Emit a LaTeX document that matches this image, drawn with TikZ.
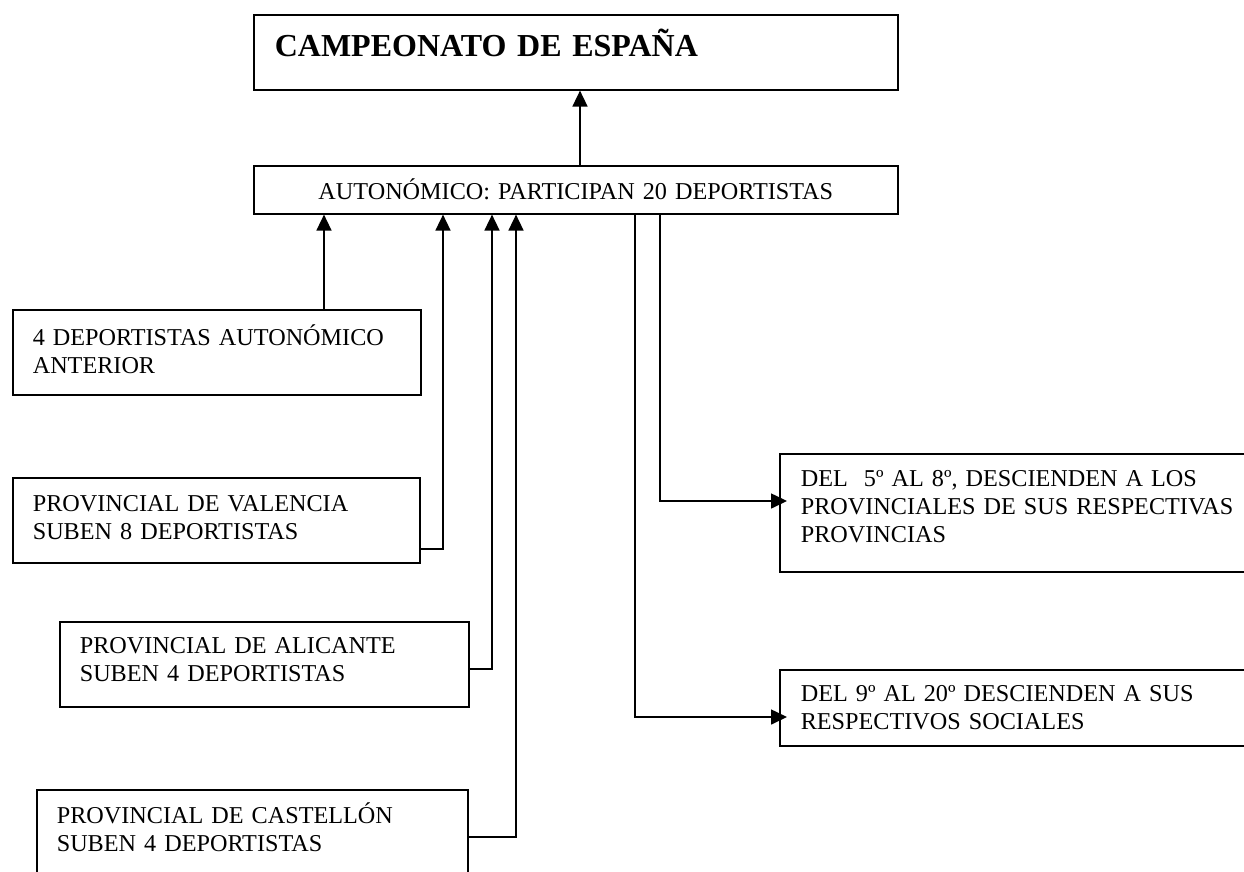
\documentclass[tikz,border=0pt]{standalone}
\usepackage{fontspec}
\setmainfont{Liberation Serif}
\usetikzlibrary{arrows.meta,positioning}
\tikzstyle{l2}=[line width=1.6pt]
\tikzstyle{box}=[draw, l2, anchor=north west, align=left, inner xsep=20pt, inner ysep=0pt, font=\fontsize{24.2}{27.7}\selectfont]
\tikzstyle{arr}=[l2, -{Triangle[length=16pt,width=15pt]}]

\begin{document}
\begin{tikzpicture}[x=1pt,y=-1pt]
    \clip (0,0) rectangle (1244,871);
    % niveles
    \node[box, font=\fontsize{32}{36}\selectfont\bfseries, inner xsep=21pt, text width=602pt, text height=42pt, text depth=33pt] at (253,14) (camp) {CAMPEONATO DE ESPAÑA};
    \node[box, align=center, text width=604pt, text height=34pt, text depth=14pt] at (253,165) (auto) {AUTONÓMICO: PARTICIPAN 20 DEPORTISTAS};

    % de donde vienen
    \node[box, text width=368pt, text height=36pt, text depth=49pt] at (12,309) (ant) {4 DEPORTISTAS AUTONÓMICO\\ANTERIOR};
    \node[box, text width=367pt, text height=34pt, text depth=51pt] at (12,477) (val) {PROVINCIAL DE VALENCIA\\SUBEN 8 DEPORTISTAS};
    \node[box, text width=369pt, text height=32pt, text depth=53pt] at (59,621) (ali) {PROVINCIAL DE ALICANTE\\SUBEN 4 DEPORTISTAS};
    \node[box, text width=391pt, text height=34pt, text depth=80pt] at (36,789) (cas) {PROVINCIAL DE CASTELLÓN\\SUBEN 4 DEPORTISTAS};

    % a donde van
    \node[box, inner xsep=21pt, text width=480pt, text height=33pt, text depth=85pt] at (779,453) (baja) {DEL~~5º AL 8º, DESCIENDEN A LOS\\PROVINCIALES DE SUS RESPECTIVAS\\PROVINCIAS};
    \node[box, inner xsep=21pt, text width=480pt, text height=32pt, text depth=44pt] at (779,669) (soc) {DEL 9º AL 20º DESCIENDEN A SUS\\RESPECTIVOS SOCIALES};

    \coordinate (up) at (580,0);
    \coordinate (kant) at (324,0);
    \coordinate (kval) at (443,549);
    \coordinate (kali) at (492,669);
    \coordinate (kcas) at (516,837);
    \coordinate (kbaja) at (660,501);
    \coordinate (ksoc) at (635,717);

    \draw[arr] (auto.north -| up) -- (camp.south -| up);
    \draw[arr] (ant.north -| kant) -- (auto.south -| kant);
    \draw[arr] (val.east |- kval) -- (kval) -- (auto.south -| kval);
    \draw[arr] (ali.east |- kali) -- (kali) -- (auto.south -| kali);
    \draw[arr] (cas.east |- kcas) -- (kcas) -- (auto.south -| kcas);
    \draw[arr, shorten >=-8pt] (auto.south -| kbaja) -- (kbaja) -- (baja.west |- kbaja);
    \draw[arr, shorten >=-8pt] (auto.south -| ksoc) -- (ksoc) -- (soc.west |- ksoc);
\end{tikzpicture}
\end{document}
